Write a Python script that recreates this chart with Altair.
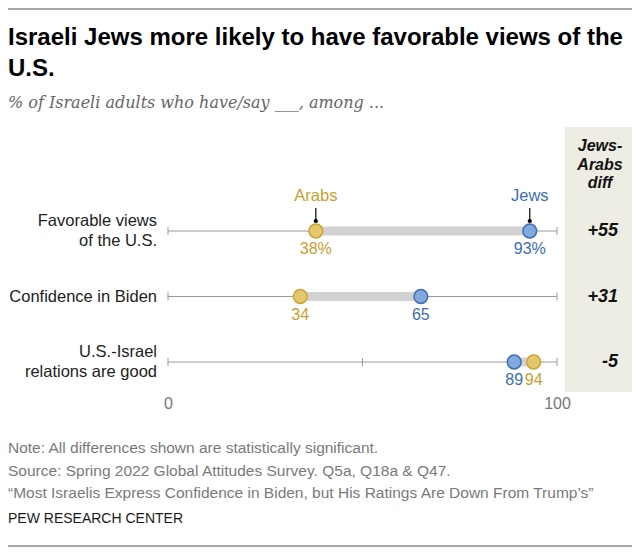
import altair as alt
import pandas as pd

# ---------------- data ----------------
categories = ["Favorable views\nof the U.S.", "Confidence in Biden", "U.S.-Israel\nrelations are good"]
arabs = [38, 34, 94]
jews = [93, 65, 89]
groups = ["Arabs", "Jews"]
tick_values = [0, 50, 100]
axis_labels = [0, 100]

title_lines = ["Israeli Jews more likely to have favorable views of the", "U.S."]
subtitle = "% of Israeli adults who have/say ___, among ..."
diff_header = "Jews-\nArabs\ndiff"
notes = [
    "Note: All differences shown are statistically significant.",
    "Source: Spring 2022 Global Attitudes Survey. Q5a, Q18a & Q47.",
    "\u201cMost Israelis Express Confidence in Biden, but His Ratings Are Down From Trump\u2019s\u201d",
]
credit = "PEW RESEARCH CENTER"

# ---------------- tables ----------------
wide = pd.DataFrame({"category": categories, "Arabs": arabs, "Jews": jews})
wide["lo"] = wide[["Arabs", "Jews"]].min(axis=1)
wide["hi"] = wide[["Arabs", "Jews"]].max(axis=1)
wide["diff_label"] = [f"{j - a:+d}" for a, j in zip(arabs, jews)]
wide["multi"] = ["\n" in c for c in categories]

rows = []
for i, c in enumerate(categories):
    for g, vals in (("Arabs", arabs), ("Jews", jews)):
        v = vals[i]
        rows.append({"category": c, "group": g, "value": v,
                     "label": f"{v}%" if i == 0 else str(v)})
long = pd.DataFrame(rows)
first = long[long["category"] == categories[0]]

ticks = pd.DataFrame([{"category": c, "value": t} for c in categories for t in tick_values])
one = pd.DataFrame({"k": [0]})

# ---------------- styles ----------------
SANS = "Liberation Sans"
GOLD_FILL, GOLD_LINE, GOLD_TEXT = "#e4c86e", "#cba535", "#c9a030"
BLUE_FILL, BLUE_LINE, BLUE_TEXT = "#83aadd", "#3f6fb5", "#3c6db3"
GRAY_LINE = "#9a9a9a"

xscale = alt.Scale(domain=[0, 100], nice=False, zero=False)
xaxis = alt.Axis(values=axis_labels, title=None, domain=False, ticks=False, grid=False,
                 labelFontSize=16, labelColor="#777", labelFont=SANS, labelPadding=3,
                 labelFlush=False)
yscale = alt.Scale(type="point", domain=categories, range=[111, 242], padding=0)
Y = alt.Y("category:N", scale=yscale, axis=None)

fill_scale = alt.Scale(domain=groups, range=[GOLD_FILL, BLUE_FILL])
line_scale = alt.Scale(domain=groups, range=[GOLD_LINE, BLUE_LINE])
text_scale = alt.Scale(domain=groups, range=[GOLD_TEXT, BLUE_TEXT])

# ---------------- layers ----------------
panel = alt.Chart(one).mark_rect(color="#eeede4").encode(
    x=alt.value(397), x2=alt.value(464), y=alt.value(7), y2=alt.value(272))

baselines = alt.Chart(wide).mark_rule(color=GRAY_LINE, strokeWidth=1).encode(
    x=alt.X(datum=0, type="quantitative", scale=xscale, axis=xaxis),
    x2=alt.X2(datum=100), y=Y)

tick_marks = alt.Chart(ticks).mark_tick(color=GRAY_LINE, size=8, thickness=1, opacity=1).encode(
    x=alt.X("value:Q", scale=xscale, axis=xaxis), y=Y)

bar = alt.Chart(wide).mark_rule(color="#d2d2d2", strokeWidth=9).encode(
    x=alt.X("lo:Q", scale=xscale, axis=xaxis), x2="hi:Q", y=Y)

connector = alt.Chart(first).mark_rule(color="#000", strokeWidth=1.2, yOffset=-23, y2Offset=-10).encode(
    x=alt.X("value:Q", scale=xscale, axis=xaxis), y=Y, y2=alt.Y2("category:N"))

knob = alt.Chart(first).mark_circle(color="#000", size=18, opacity=1, yOffset=-10).encode(
    x=alt.X("value:Q", scale=xscale, axis=xaxis), y=Y)

dots = alt.Chart(long).mark_point(shape="circle", size=190, strokeWidth=1.5, opacity=1, filled=False).encode(
    x=alt.X("value:Q", scale=xscale, axis=xaxis), y=Y,
    fill=alt.Fill("group:N", scale=fill_scale, legend=None),
    stroke=alt.Stroke("group:N", scale=line_scale, legend=None))

value_text = alt.Chart(long).mark_text(font=SANS, fontSize=16, dy=18, baseline="middle").encode(
    x=alt.X("value:Q", scale=xscale, axis=xaxis), y=Y, text="label:N",
    color=alt.Color("group:N", scale=text_scale, legend=None))

group_text = alt.Chart(first).mark_text(font=SANS, fontSize=16.5, dy=-35, baseline="middle").encode(
    x=alt.X("value:Q", scale=xscale, axis=xaxis), y=Y, text="group:N",
    color=alt.Color("group:N", scale=text_scale, legend=None))

label_style = dict(font=SANS, fontSize=16.5, align="right", baseline="middle",
                   lineBreak="\n", lineHeight=20, color="#222")
row_labels_multi = alt.Chart(wide).transform_filter("datum.multi").mark_text(dy=-10, **label_style).encode(
    x=alt.value(-11), y=Y, text="category:N")
row_labels_single = alt.Chart(wide).transform_filter("!datum.multi").mark_text(**label_style).encode(
    x=alt.value(-11), y=Y, text="category:N")

diff_text = alt.Chart(wide).mark_text(font=SANS, fontSize=18, fontWeight="bold", fontStyle="italic",
                                      align="right", baseline="middle", color="#111").encode(
    x=alt.value(450), y=Y, text="diff_label:N")

header = alt.Chart(one).mark_text(font=SANS, fontSize=16, fontWeight="bold", fontStyle="italic",
                                  align="center", baseline="middle", lineBreak="\n", lineHeight=18.5,
                                  color="#111").encode(
    x=alt.value(432), y=alt.value(26), text=alt.value(diff_header))

title_text = alt.Chart(one).mark_text(font=SANS, fontSize=24, fontWeight="bold", align="left",
                                      baseline="middle", lineBreak="\n", lineHeight=31,
                                      color="#000").encode(
    x=alt.value(-160), y=alt.value(-82), text=alt.value("\n".join(title_lines)))

subtitle_text = alt.Chart(one).mark_text(font="DejaVu Serif", fontSize=16, fontStyle="italic",
                                         align="left", baseline="middle", color="#666").encode(
    x=alt.value(-160), y=alt.value(-17), text=alt.value(subtitle))

footer = alt.Chart(one).mark_text(font=SANS, fontSize=15.5, align="left", baseline="middle",
                                  lineBreak="\n", lineHeight=22.5, color="#7a7a7a").encode(
    x=alt.value(-160), y=alt.value(328), text=alt.value("\n".join(notes)))

credit_text = alt.Chart(one).mark_text(font=SANS, fontSize=14, align="left", baseline="middle",
                                       color="#1a1a1a").encode(
    x=alt.value(-160), y=alt.value(399), text=alt.value(credit))

top_line = alt.Chart(one).mark_rule(color="#8a8a8a", strokeWidth=1.5).encode(
    x=alt.value(-160), x2=alt.value(464), y=alt.value(-111))
bottom_line = alt.Chart(one).mark_rule(color="#8a8a8a", strokeWidth=1.5).encode(
    x=alt.value(-160), x2=alt.value(464), y=alt.value(426))

chart = alt.layer(
    panel, baselines, tick_marks, bar, connector, knob, dots, value_text, group_text,
    row_labels_multi, row_labels_single, diff_text, header, title_text, subtitle_text,
    footer, credit_text, top_line, bottom_line,
).resolve_scale(color="independent").properties(
    width=389, height=272,
    autosize=alt.AutoSizeParams(type="none"),
    padding={"left": 160, "top": 112, "right": 75, "bottom": 156},
).configure_view(stroke=None)

chart.save("out.html", embed_options={"renderer": "svg", "actions": False})
